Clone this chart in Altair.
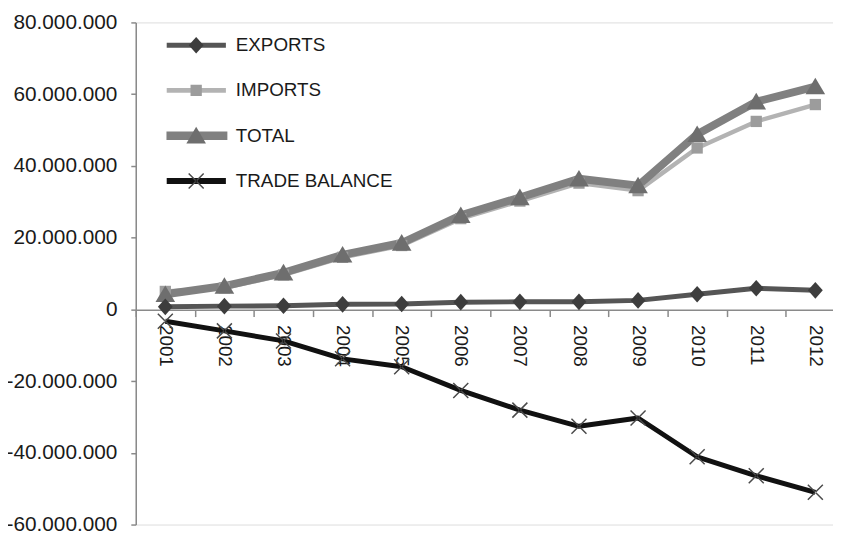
import altair as alt
import pandas as pd

years = ["2001", "2002", "2003", "2004", "2005", "2006", "2007", "2008", "2009", "2010", "2011", "2012"]
series = ["EXPORTS", "IMPORTS", "TOTAL", "TRADE BALANCE"]
exports = [700000, 900000, 1000000, 1400000, 1500000, 2000000, 2100000, 2100000, 2500000, 4200000, 5900000, 5300000]
imports = [5000000, 6000000, 9600000, 14500000, 17800000, 25300000, 30200000, 35200000, 33100000, 45000000, 52400000, 57100000]
total = [4200000, 6500000, 10200000, 15200000, 18500000, 26200000, 31200000, 36400000, 34500000, 48800000, 57900000, 62100000]
trade_balance = [-3300000, -6000000, -8800000, -13800000, -16000000, -22600000, -28100000, -32600000, -30300000, -41100000, -46400000, -51000000]
y_ticks = [-60000000, -40000000, -20000000, 0, 20000000, 40000000, 60000000, 80000000]

values_by_series = {"EXPORTS": exports, "IMPORTS": imports, "TOTAL": total, "TRADE BALANCE": trade_balance}
rows = []
for s in series:
    for yr, v in zip(years, values_by_series[s]):
        rows.append({"year": yr, "series": s, "value": v})
df = pd.DataFrame(rows)

FONT = "Liberation Sans"

# styles
line_color = {"EXPORTS": "#555555", "IMPORTS": "#b3b3b3", "TOTAL": "#808080", "TRADE BALANCE": "#111111"}
line_width = {"EXPORTS": 5, "IMPORTS": 4.5, "TOTAL": 8, "TRADE BALANCE": 5}
marker_color = {"EXPORTS": "#3d3d3d", "IMPORTS": "#9c9c9c", "TOTAL": "#6e6e6e", "TRADE BALANCE": "#4a4a4a"}
marker_path = {
    "EXPORTS": "M0,-0.28L0.25,0L0,0.28L-0.25,0Z",
    "IMPORTS": "M-0.19,-0.19H0.19V0.19H-0.19Z",
    "TOTAL": "M0,-0.3L0.33,0.26H-0.33Z",
    "TRADE BALANCE": "M-0.27,-0.235L-0.235,-0.27L0.27,0.235L0.235,0.27Z M-0.27,0.235L-0.235,0.27L0.27,-0.235L0.235,-0.27Z",
}
legend_line_path = {
    "EXPORTS": "M-1,-0.085H1V0.085H-1Z",
    "IMPORTS": "M-1,-0.08H1V0.08H-1Z",
    "TOTAL": "M-1.05,-0.14H1.05V0.14H-1.05Z",
    "TRADE BALANCE": "M-1,-0.1H1V0.1H-1Z",
}

x_enc = alt.X(
    "year:O",
    sort=years,
    bandPosition=0.5,
    scale=alt.Scale(type="band", domain=years, range=[0, 716], paddingInner=0, paddingOuter=0),
    axis=alt.Axis(
        title=None, orient="bottom", offset=-217, labelAngle=90, tickBand="extent",
        domainColor="#8a8a8a", domainWidth=1.5, tickColor="#8a8a8a", tickWidth=1.5, tickSize=7,
        labelFont=FONT, labelFontSize=19, labelColor="#1a1a1a", labelPadding=8,
        labelAlign="left", labelBaseline="middle",
    ),
)
y_enc = alt.Y(
    "value:Q",
    scale=alt.Scale(domain=[-60000000, 80000000], nice=False, zero=False),
    axis=alt.Axis(
        title=None, values=y_ticks, format=",d", grid=False,
        domainColor="#8a8a8a", domainWidth=1.5, tickColor="#8a8a8a", tickWidth=1.5, tickSize=5,
        labelFont=FONT, labelFontSize=21, labelColor="#1a1a1a", labelPadding=14,
    ),
)

layers = []
for s in ["IMPORTS", "TOTAL", "EXPORTS", "TRADE BALANCE"]:
    layers.append(
        alt.Chart(df).transform_filter(alt.datum.series == s)
        .mark_line(color=line_color[s], strokeWidth=line_width[s], strokeJoin="round")
        .encode(x=x_enc, y=y_enc)
    )
for s in ["IMPORTS", "TOTAL", "EXPORTS", "TRADE BALANCE"]:
    layers.append(
        alt.Chart(df).transform_filter(alt.datum.series == s)
        .mark_point(shape=marker_path[s], size=3600, filled=True, opacity=1, color=marker_color[s])
        .encode(x=x_enc, y=y_enc)
    )


def legend(label_opacity):
    return alt.Legend(
        title=None, orient="none", legendX=31, legendY=12, padding=0,
        symbolSize=3600, symbolStrokeWidth=0, symbolOpacity=1, clipHeight=22,
        rowPadding=23.7, labelOffset=10, labelFont=FONT, labelFontSize=19,
        labelColor="#1a1a1a", labelOpacity=label_opacity, labelLimit=0,
    )


legend_lines = (
    alt.Chart(df).transform_filter("false")
    .mark_point(filled=True, size=3600, opacity=1)
    .encode(
        x=x_enc, y=y_enc,
        shape=alt.Shape("series:N", scale=alt.Scale(domain=series, range=[legend_line_path[s] for s in series]), legend=legend(1)),
        color=alt.Color("series:N", scale=alt.Scale(domain=series, range=[line_color[s] for s in series]), legend=legend(1)),
    )
)
legend_markers = (
    alt.Chart(df).transform_filter("false")
    .mark_point(filled=True, size=3600, opacity=1)
    .encode(
        x=x_enc, y=y_enc,
        shape=alt.Shape("series:N", scale=alt.Scale(domain=series, range=[marker_path[s] for s in series]), legend=legend(0)),
        color=alt.Color("series:N", scale=alt.Scale(domain=series, range=[marker_color[s] for s in series]), legend=legend(0)),
    )
)
layers += [legend_lines, legend_markers]

chart = (
    alt.layer(*layers)
    .resolve_scale(color="independent", shape="independent")
    .properties(
        width=704, height=507,
        autosize=alt.AutoSizeParams(type="none"),
        padding={"left": 129, "top": 12, "right": 0, "bottom": 10},
        background="white",
    )
    .configure_view(stroke=None)
    .configure(locale={"number": {"decimal": ",", "thousands": ".", "grouping": [3], "currency": ["", ""], "minus": "-"}})
)

chart.save("out.html", embed_options={"renderer": "svg", "actions": False})
